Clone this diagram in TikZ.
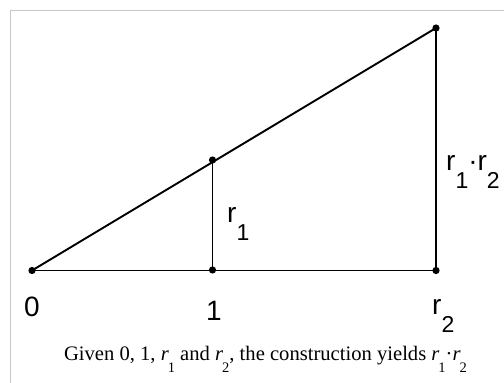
\documentclass[tikz,border=0pt]{standalone}
\usepackage{fontspec}
\setmainfont{Liberation Serif}
\newfontfamily\lblfont{Liberation Sans}
\usetikzlibrary{calc}

% lowered subscripts as in the original drawing
\newcommand{\lowsub}[1]{\raisebox{-18pt}{\fontsize{23}{23}\selectfont #1}}
\newcommand{\capsub}[1]{\kern-1pt\raisebox{-12pt}{\fontsize{14.5}{14.5}\selectfont #1}}

\tikzset{
    seg/.style={line width=1.9pt},
    lbl/.style={font=\lblfont\fontsize{28}{28}\selectfont, inner sep=0pt},
    frame/.style={draw=black!22, line width=1pt}
}

\begin{document}
\begin{tikzpicture}[x=1pt,y=-1pt]
    \useasboundingbox (0,0) rectangle (504,383);
    \draw[frame] (10.5,400) -- (10.5,10.5) -- (520,10.5);

    % Points of the construction
    \coordinate (O) at (32,270.5);
    \coordinate (U) at (212.5,270);
    \coordinate (R) at (436,270.5);
    \coordinate (A) at (212.5,160);
    \coordinate (B) at (436,28);

    % Segments
    \draw[seg] (O) -- (R);
    \draw[seg] (O) -- (B);
    \draw[seg] (U) -- (A);
    \draw[seg] (R) -- (B);

    % Dots
    \foreach \p in {O, U, R, A, B} {
        \fill (\p) circle (3.6pt);
    }

    % Labels
    \node[lbl, anchor=base] (l0) at (32,316) {0};
    \node[lbl, anchor=base] (l1) at (214,320) {1};
    \node[lbl, anchor=base west] (lr2) at (432,314) {r\lowsub{2}};
    \node[lbl, anchor=base west] (lr1) at (227,222) {r\lowsub{1}};
    \node[lbl, anchor=base west] (lprod) at (446,170) {r\lowsub{1}·r\lowsub{2}};

    \node[font=\fontsize{20.6}{20.6}\selectfont, inner sep=0pt, anchor=base] (cap) at (265.5,360)
        {Given 0, 1, \textit{r}\capsub{1} and \textit{r}\capsub{2}, the construction yields \textit{r}\capsub{1}·\textit{r}\capsub{2}};
\end{tikzpicture}
\end{document}
